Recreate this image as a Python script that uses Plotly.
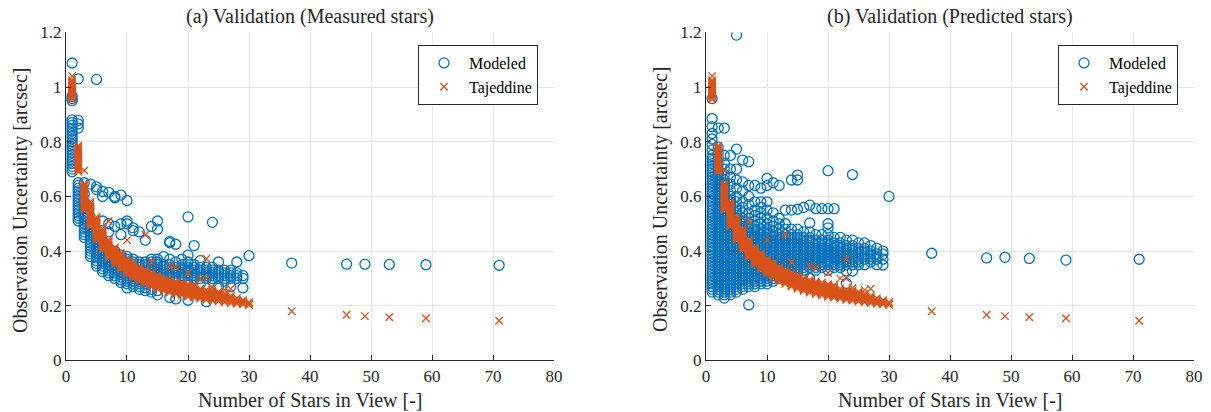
import plotly.graph_objects as go

# ---- Tajeddine analytical uncertainty (same for both validations) ----
taj_stars = [1, 2, 3, 4, 5, 6, 7, 8, 9, 10, 11, 12, 13, 14, 15, 16, 17, 18, 19, 20,
             21, 22, 23, 24, 25, 26, 27, 28, 29, 30, 37, 46, 49, 53, 59, 71]
taj_unc = [
    [0.955, 0.96, 0.965, 0.97, 0.975, 0.98, 0.985, 0.99, 0.995, 1.0, 1.005, 1.01, 1.015, 1.02, 1.025, 1.04],
    [0.69, 0.696, 0.702, 0.708, 0.714, 0.72, 0.726, 0.732, 0.738, 0.744, 0.75, 0.756, 0.762, 0.768, 0.774, 0.78, 0.785],
    [0.55, 0.556, 0.562, 0.568, 0.574, 0.58, 0.586, 0.592, 0.598, 0.604, 0.61, 0.616, 0.622, 0.628, 0.634, 0.64, 0.646, 0.695],
    [0.49, 0.496, 0.502, 0.508, 0.514, 0.52, 0.526, 0.532, 0.538, 0.544, 0.55, 0.556, 0.562, 0.568, 0.574, 0.58],
    [0.44, 0.446, 0.452, 0.458, 0.464, 0.47, 0.476, 0.482, 0.488, 0.494, 0.50, 0.506, 0.512, 0.518, 0.525],
    [0.405, 0.41, 0.415, 0.42, 0.425, 0.43, 0.435, 0.44, 0.445, 0.45, 0.455, 0.46, 0.465, 0.47, 0.476, 0.482],
    [0.375, 0.38, 0.385, 0.39, 0.395, 0.40, 0.405, 0.41, 0.415, 0.42, 0.425, 0.43, 0.436, 0.442, 0.51],
    [0.352, 0.357, 0.362, 0.367, 0.372, 0.377, 0.382, 0.387, 0.392, 0.397, 0.402, 0.407, 0.413],
    [0.333, 0.338, 0.343, 0.348, 0.353, 0.358, 0.363, 0.368, 0.373, 0.378, 0.383, 0.388, 0.393],
    [0.316, 0.321, 0.326, 0.331, 0.336, 0.341, 0.346, 0.351, 0.356, 0.361, 0.366, 0.371, 0.44],
    [0.302, 0.307, 0.312, 0.317, 0.322, 0.327, 0.332, 0.337, 0.342, 0.347, 0.352, 0.357],
    [0.29, 0.295, 0.30, 0.305, 0.31, 0.315, 0.32, 0.325, 0.33, 0.335, 0.34],
    [0.28, 0.285, 0.29, 0.295, 0.30, 0.305, 0.31, 0.315, 0.32, 0.325, 0.33, 0.46],
    [0.27, 0.275, 0.28, 0.285, 0.29, 0.295, 0.30, 0.305, 0.31, 0.315, 0.32, 0.36],
    [0.262, 0.267, 0.272, 0.277, 0.282, 0.287, 0.292, 0.297, 0.302, 0.307, 0.312],
    [0.255, 0.26, 0.265, 0.27, 0.275, 0.28, 0.285, 0.29, 0.295, 0.30],
    [0.248, 0.253, 0.258, 0.263, 0.268, 0.273, 0.278, 0.283, 0.288, 0.294, 0.345],
    [0.243, 0.248, 0.253, 0.258, 0.263, 0.268, 0.273, 0.278, 0.283, 0.289, 0.34],
    [0.238, 0.243, 0.248, 0.253, 0.258, 0.263, 0.268, 0.273, 0.278, 0.284],
    [0.234, 0.239, 0.244, 0.249, 0.254, 0.259, 0.264, 0.269, 0.274, 0.279, 0.32],
    [0.23, 0.235, 0.24, 0.245, 0.25, 0.255, 0.26, 0.265, 0.27, 0.275],
    [0.226, 0.231, 0.236, 0.241, 0.246, 0.251, 0.256, 0.262, 0.30],
    [0.222, 0.227, 0.232, 0.237, 0.242, 0.247, 0.252, 0.258, 0.30, 0.372],
    [0.219, 0.224, 0.229, 0.234, 0.239, 0.244, 0.25, 0.256, 0.265],
    [0.216, 0.221, 0.226, 0.231, 0.236, 0.241, 0.246, 0.25],
    [0.213, 0.218, 0.223, 0.228, 0.233, 0.238, 0.245, 0.258],
    [0.21, 0.215, 0.22, 0.225, 0.23, 0.236, 0.262],
    [0.207, 0.212, 0.217, 0.222, 0.228],
    [0.205, 0.21, 0.215, 0.22],
    [0.203, 0.208, 0.213],
    [0.18], [0.167], [0.162], [0.158], [0.154], [0.145],
]

# ---- Modeled uncertainty, measured stars ----
meas_stars = [1, 2, 3, 4, 5, 6, 7, 8, 9, 10, 11, 12, 13, 14, 15, 16, 17, 18, 19, 20,
              21, 22, 23, 24, 25, 26, 27, 28, 29, 30, 37, 46, 49, 53, 59, 71]
meas_unc = [
    [0.69, 0.70, 0.71, 0.72, 0.73, 0.74, 0.75, 0.76, 0.77, 0.78, 0.79, 0.80, 0.81, 0.82,
     0.83, 0.84, 0.85, 0.86, 0.87, 0.88, 0.95, 0.958, 0.966, 1.088],
    [0.51, 0.52, 0.53, 0.54, 0.55, 0.56, 0.57, 0.58, 0.59, 0.60, 0.61, 0.62, 0.63, 0.64,
     0.65, 0.85, 0.865, 0.878, 1.03],
    [0.45, 0.46, 0.47, 0.48, 0.49, 0.50, 0.51, 0.52, 0.53, 0.54, 0.55, 0.56, 0.57, 0.58,
     0.61, 0.65],
    [0.38, 0.39, 0.40, 0.41, 0.42, 0.43, 0.44, 0.45, 0.46, 0.47, 0.48, 0.49, 0.50, 0.645],
    [0.345, 0.355, 0.365, 0.375, 0.385, 0.395, 0.405, 0.415, 0.425, 0.435, 0.445, 0.455,
     0.465, 0.625, 0.635, 1.028],
    [0.325, 0.335, 0.345, 0.355, 0.365, 0.375, 0.385, 0.395, 0.405, 0.415, 0.425, 0.435,
     0.51, 0.60, 0.618],
    [0.31, 0.32, 0.33, 0.34, 0.35, 0.36, 0.37, 0.38, 0.39, 0.40, 0.41, 0.47, 0.50, 0.615],
    [0.30, 0.31, 0.32, 0.33, 0.34, 0.35, 0.36, 0.37, 0.38, 0.39, 0.40, 0.49, 0.595, 0.60],
    [0.285, 0.295, 0.305, 0.315, 0.325, 0.335, 0.345, 0.355, 0.365, 0.375, 0.385,
     0.46, 0.50, 0.605],
    [0.265, 0.28, 0.29, 0.30, 0.31, 0.32, 0.33, 0.34, 0.35, 0.36, 0.37, 0.38, 0.50, 0.51, 0.585],
    [0.27, 0.28, 0.29, 0.30, 0.31, 0.32, 0.33, 0.34, 0.35, 0.36, 0.37, 0.475, 0.485],
    [0.26, 0.27, 0.28, 0.29, 0.30, 0.31, 0.32, 0.33, 0.34, 0.35, 0.36, 0.47],
    [0.255, 0.265, 0.28, 0.29, 0.30, 0.31, 0.32, 0.33, 0.34, 0.35, 0.36, 0.44],
    [0.25, 0.26, 0.29, 0.30, 0.31, 0.32, 0.33, 0.34, 0.35, 0.36, 0.37, 0.49],
    [0.24, 0.255, 0.29, 0.30, 0.31, 0.32, 0.33, 0.34, 0.35, 0.36, 0.37, 0.48, 0.51],
    [0.28, 0.30, 0.31, 0.32, 0.33, 0.34, 0.35, 0.38],
    [0.23, 0.28, 0.30, 0.31, 0.32, 0.33, 0.34, 0.35, 0.37, 0.43, 0.435],
    [0.225, 0.29, 0.30, 0.31, 0.32, 0.33, 0.34, 0.36, 0.425],
    [0.30, 0.31, 0.32, 0.33, 0.34, 0.35, 0.37],
    [0.22, 0.28, 0.30, 0.31, 0.32, 0.33, 0.34, 0.36, 0.385, 0.525],
    [0.30, 0.31, 0.32, 0.33, 0.34, 0.35, 0.42],
    [0.28, 0.30, 0.31, 0.32, 0.33, 0.34, 0.365],
    [0.215, 0.30, 0.31, 0.32, 0.33, 0.34],
    [0.29, 0.30, 0.31, 0.32, 0.33, 0.34, 0.505],
    [0.27, 0.30, 0.31, 0.32, 0.33, 0.36],
    [0.29, 0.30, 0.31, 0.32, 0.33],
    [0.27, 0.30, 0.31, 0.32, 0.33],
    [0.30, 0.31, 0.32, 0.36],
    [0.265, 0.30, 0.31],
    [0.383],
    [0.356], [0.352], [0.352], [0.351], [0.35], [0.348],
]

# ---- Modeled uncertainty, predicted stars ----
pred_stars = [1, 2, 3, 4, 5, 6, 7, 8, 9, 10, 11, 12, 13, 14, 15, 16, 17, 18, 19, 20,
              21, 22, 23, 24, 25, 26, 27, 28, 29, 30, 37, 46, 49, 53, 59, 71]
pred_unc = [
    [0.25, 0.26, 0.27, 0.28, 0.29, 0.30, 0.31, 0.32, 0.33, 0.34, 0.35, 0.36, 0.37, 0.38,
     0.39, 0.40, 0.41, 0.42, 0.43, 0.44, 0.45, 0.46, 0.47, 0.48, 0.49, 0.50, 0.51, 0.52,
     0.53, 0.54, 0.55, 0.56, 0.57, 0.58, 0.59, 0.60, 0.61, 0.62, 0.63, 0.64, 0.65, 0.66,
     0.67, 0.68, 0.69, 0.70, 0.71, 0.72, 0.73, 0.74, 0.75, 0.77, 0.79, 0.81, 0.83, 0.855,
     0.885, 0.958],
    [0.24, 0.25, 0.26, 0.27, 0.28, 0.29, 0.30, 0.31, 0.32, 0.33, 0.34, 0.35, 0.36, 0.37,
     0.38, 0.39, 0.40, 0.41, 0.42, 0.43, 0.44, 0.45, 0.46, 0.47, 0.48, 0.49, 0.50, 0.51,
     0.52, 0.53, 0.54, 0.55, 0.56, 0.57, 0.58, 0.59, 0.60, 0.61, 0.62, 0.63, 0.64, 0.65,
     0.66, 0.67, 0.68, 0.69, 0.70, 0.72, 0.74, 0.76, 0.78, 0.85],
    [0.228, 0.24, 0.25, 0.26, 0.27, 0.28, 0.29, 0.30, 0.31, 0.32, 0.33, 0.34, 0.35, 0.36,
     0.37, 0.38, 0.39, 0.40, 0.41, 0.42, 0.43, 0.44, 0.45, 0.46, 0.47, 0.48, 0.49, 0.50,
     0.51, 0.52, 0.53, 0.54, 0.55, 0.56, 0.57, 0.58, 0.59, 0.60, 0.61, 0.62, 0.63, 0.64,
     0.65, 0.66, 0.68, 0.70, 0.72, 0.75, 0.85],
    [0.24, 0.25, 0.26, 0.27, 0.28, 0.29, 0.30, 0.31, 0.32, 0.33, 0.34, 0.35, 0.36, 0.37,
     0.38, 0.39, 0.40, 0.41, 0.42, 0.43, 0.44, 0.45, 0.46, 0.47, 0.48, 0.49, 0.50, 0.51,
     0.52, 0.53, 0.54, 0.55, 0.56, 0.57, 0.58, 0.59, 0.60, 0.62, 0.645, 0.67, 0.70, 0.75],
    [0.25, 0.26, 0.27, 0.28, 0.29, 0.30, 0.31, 0.32, 0.33, 0.34, 0.35, 0.36, 0.37, 0.38,
     0.39, 0.40, 0.41, 0.42, 0.43, 0.44, 0.45, 0.46, 0.47, 0.48, 0.49, 0.50, 0.51, 0.52,
     0.53, 0.54, 0.55, 0.56, 0.58, 0.60, 0.63, 0.66, 0.70, 0.773, 1.19],
    [0.26, 0.27, 0.28, 0.29, 0.30, 0.31, 0.32, 0.33, 0.34, 0.35, 0.36, 0.37, 0.38, 0.39,
     0.40, 0.41, 0.42, 0.43, 0.44, 0.45, 0.46, 0.47, 0.48, 0.49, 0.50, 0.51, 0.52, 0.54,
     0.56, 0.58, 0.62, 0.653, 0.733],
    [0.203, 0.27, 0.28, 0.29, 0.30, 0.31, 0.32, 0.33, 0.34, 0.35, 0.36, 0.37, 0.38, 0.39,
     0.40, 0.41, 0.42, 0.43, 0.44, 0.45, 0.46, 0.47, 0.48, 0.49, 0.50, 0.52, 0.54, 0.57,
     0.60, 0.64, 0.727],
    [0.27, 0.28, 0.29, 0.30, 0.31, 0.32, 0.33, 0.34, 0.35, 0.36, 0.37, 0.38, 0.39, 0.40,
     0.41, 0.42, 0.43, 0.44, 0.45, 0.46, 0.47, 0.48, 0.49, 0.51, 0.53, 0.55, 0.58, 0.64],
    [0.28, 0.29, 0.30, 0.31, 0.32, 0.33, 0.34, 0.35, 0.36, 0.37, 0.38, 0.39, 0.40, 0.41,
     0.42, 0.43, 0.44, 0.45, 0.46, 0.47, 0.48, 0.50, 0.52, 0.54, 0.56, 0.58, 0.63],
    [0.28, 0.29, 0.30, 0.31, 0.32, 0.33, 0.34, 0.35, 0.36, 0.37, 0.38, 0.39, 0.40, 0.41,
     0.42, 0.43, 0.44, 0.45, 0.46, 0.47, 0.48, 0.50, 0.52, 0.55, 0.58, 0.64, 0.666],
    [0.29, 0.30, 0.31, 0.32, 0.33, 0.34, 0.35, 0.36, 0.37, 0.38, 0.39, 0.40, 0.41, 0.42,
     0.43, 0.44, 0.45, 0.46, 0.47, 0.49, 0.51, 0.54, 0.65],
    [0.30, 0.31, 0.32, 0.33, 0.34, 0.35, 0.36, 0.37, 0.38, 0.39, 0.40, 0.41, 0.42, 0.43,
     0.44, 0.45, 0.46, 0.48, 0.50, 0.52, 0.64],
    [0.30, 0.31, 0.32, 0.33, 0.34, 0.35, 0.36, 0.37, 0.38, 0.39, 0.40, 0.41, 0.42, 0.43,
     0.44, 0.45, 0.46, 0.48, 0.50, 0.55],
    [0.31, 0.32, 0.33, 0.34, 0.35, 0.36, 0.37, 0.38, 0.39, 0.40, 0.41, 0.42, 0.43, 0.44,
     0.45, 0.46, 0.48, 0.55, 0.66],
    [0.32, 0.33, 0.34, 0.35, 0.36, 0.37, 0.38, 0.39, 0.40, 0.41, 0.42, 0.43, 0.44, 0.45,
     0.46, 0.48, 0.553, 0.66, 0.678],
    [0.32, 0.33, 0.34, 0.35, 0.36, 0.37, 0.38, 0.39, 0.40, 0.41, 0.42, 0.43, 0.44, 0.45,
     0.47, 0.56],
    [0.30, 0.34, 0.35, 0.36, 0.37, 0.38, 0.39, 0.40, 0.41, 0.42, 0.43, 0.44, 0.45, 0.47,
     0.503, 0.568],
    [0.33, 0.34, 0.35, 0.36, 0.37, 0.38, 0.39, 0.40, 0.41, 0.42, 0.43, 0.44, 0.46, 0.555],
    [0.34, 0.35, 0.36, 0.37, 0.38, 0.39, 0.40, 0.41, 0.42, 0.43, 0.44, 0.46, 0.555],
    [0.33, 0.35, 0.36, 0.37, 0.38, 0.39, 0.40, 0.41, 0.42, 0.43, 0.44, 0.46, 0.485, 0.50,
     0.555, 0.694],
    [0.34, 0.35, 0.36, 0.37, 0.38, 0.39, 0.40, 0.41, 0.42, 0.43, 0.45, 0.555],
    [0.34, 0.35, 0.36, 0.37, 0.38, 0.39, 0.40, 0.41, 0.42, 0.43, 0.45],
    [0.282, 0.327, 0.35, 0.36, 0.37, 0.38, 0.39, 0.40, 0.41, 0.42, 0.44],
    [0.327, 0.35, 0.36, 0.37, 0.38, 0.39, 0.40, 0.41, 0.42, 0.44, 0.68],
    [0.35, 0.36, 0.37, 0.38, 0.39, 0.40, 0.41, 0.43],
    [0.35, 0.37, 0.38, 0.39, 0.40, 0.41, 0.43],
    [0.36, 0.37, 0.38, 0.39, 0.40, 0.42],
    [0.35, 0.37, 0.38, 0.39, 0.41],
    [0.349, 0.37, 0.389, 0.40],
    [0.60],
    [0.392], [0.375], [0.377], [0.373], [0.367], [0.37],
]

x_ticks = [0, 10, 20, 30, 40, 50, 60, 70, 80]
y_ticks = [0, 0.2, 0.4, 0.6, 0.8, 1.0, 1.2]
panel_titles = ["(a) Validation (Measured stars)", "(b) Validation (Predicted stars)"]
x_label = "Number of Stars in View [-]"
y_label = "Observation Uncertainty [arcsec]"

BLUE = "#0072BD"
ORANGE = "#D95319"
AXIS = "#262626"
GRID = "#e4e4e4"
FONT = "Liberation Serif, DejaVu Serif, serif"
W, H = 1211, 412


def expand(stars, groups):
    xs, ys = [], []
    for n, vals in zip(stars, groups):
        for v in vals:
            xs.append(n)
            ys.append(v)
    return xs, ys


fig = go.Figure()

panels = [
    (meas_stars, meas_unc, "x", "y", "legend"),
    (pred_stars, pred_unc, "x2", "y2", "legend2"),
]
for stars, groups, xa, ya, leg in panels:
    mx, my = expand(stars, groups)
    tx, ty = expand(taj_stars, taj_unc)
    fig.add_trace(go.Scatter(
        x=mx, y=my, mode="markers", name="Modeled", xaxis=xa, yaxis=ya, legend=leg,
        marker=dict(symbol="circle-open", size=10, color=BLUE, line=dict(width=1.3, color=BLUE)),
    ))
    fig.add_trace(go.Scatter(
        x=tx, y=ty, mode="markers", name="Tajeddine", xaxis=xa, yaxis=ya, legend=leg,
        marker=dict(symbol="x-thin-open", size=7.5, color=ORANGE, line=dict(width=1.3, color=ORANGE)),
    ))

tick_font = dict(family=FONT, size=17, color=AXIS)
label_font = dict(family=FONT, size=20, color=AXIS)

axis_common = dict(
    showgrid=True, gridcolor=GRID, gridwidth=1, automargin=False,
    showline=True, linecolor=AXIS, linewidth=1, ticks="inside", ticklen=5,
    tickcolor=AXIS, zeroline=False, tickfont=tick_font,
)
xaxis_style = dict(range=[0, 80], tickvals=x_ticks, **axis_common)
yaxis_style = dict(range=[0, 1.2], tickvals=y_ticks, **axis_common)

x_doms = [[0.0545, 0.4575], [0.583, 0.986]]
y_dom = [0.1252, 0.9214]
legend_style = dict(
    y=1 - 45 / H, xanchor="right", yanchor="top", itemwidth=40,
    font=dict(family=FONT, size=16, color="black"),
    bordercolor=AXIS, borderwidth=1, bgcolor="white", tracegroupgap=0,
)
fig.update_layout(
    width=W, height=H,
    margin=dict(l=0, r=0, t=0, b=0),
    paper_bgcolor="white", plot_bgcolor="white",
    xaxis=dict(domain=x_doms[0], anchor="y", **xaxis_style),
    yaxis=dict(domain=y_dom, anchor="x", **yaxis_style),
    xaxis2=dict(domain=x_doms[1], anchor="y2", **xaxis_style),
    yaxis2=dict(domain=y_dom, anchor="x2", **yaxis_style),
    legend=dict(x=538 / W, **legend_style),
    legend2=dict(x=1178 / W, **legend_style),
    showlegend=True,
)

# panel titles and axis labels
for title, dom in zip(panel_titles, x_doms):
    mid = (dom[0] + dom[1]) / 2
    fig.add_annotation(
        text=title, xref="paper", yref="paper", x=mid, y=1 - 17 / H,
        xanchor="center", yanchor="middle", showarrow=False, font=label_font,
    )
    fig.add_annotation(
        text=x_label, xref="paper", yref="paper", x=mid, y=1 - 400 / H,
        xanchor="center", yanchor="middle", showarrow=False, font=label_font,
    )
    fig.add_annotation(
        text=y_label, xref="paper", yref="paper", x=dom[0] - 46 / W,
        y=1 - 200 / H, textangle=-90,
        xanchor="center", yanchor="middle", showarrow=False, font=label_font,
    )

fig.write_html("out.html")
